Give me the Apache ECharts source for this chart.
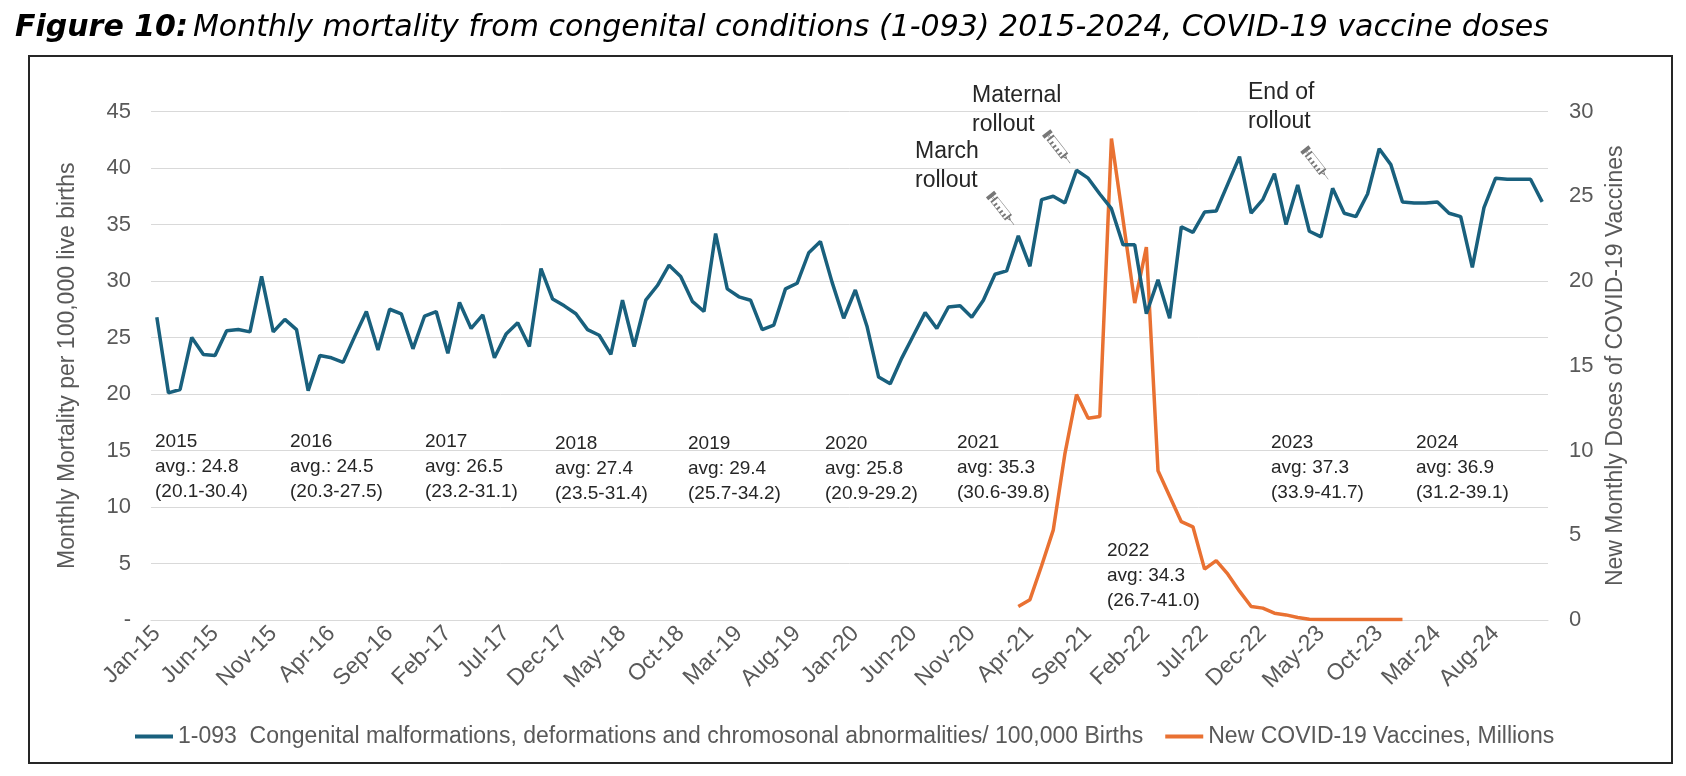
<!DOCTYPE html>
<html>
<head>
<meta charset="utf-8">
<script src="https://cdn.jsdelivr.net/npm/echarts@6/dist/echarts.min.js"></script>
<style>
  html, body { margin: 0; padding: 0; background: #fff; }
  #chart { width: 1686px; height: 776px; }
</style>
</head>
<body>
<div id="chart"></div>
<script>
// month / year parts of the category labels
var monthNames = ['Jan', 'Feb', 'Mar', 'Apr', 'May', 'Jun', 'Jul', 'Aug', 'Sep', 'Oct', 'Nov', 'Dec'];
var yearNames = ['15', '16', '17', '18', '19', '20', '21', '22', '23', '24'];

// 1-093 deaths per 100,000 births, Jan-15 .. Dec-24
var mortality = [
	26.8, 20.1, 20.4, 25.0, 23.5, 23.4, 25.6, 25.7, 25.5, 30.4, 25.5, 26.6,
	25.7, 20.3, 23.4, 23.2, 22.8, 25.1, 27.3, 23.9, 27.5, 27.1, 24.0, 26.9,
	27.3, 23.6, 28.1, 25.8, 27.0, 23.2, 25.3, 26.3, 24.2, 31.1, 28.4, 27.8,
	27.1, 25.7, 25.2, 23.5, 28.3, 24.2, 28.3, 29.6, 31.4, 30.4, 28.2, 27.3,
	34.2, 29.3, 28.6, 28.3, 25.7, 26.1, 29.3, 29.8, 32.5, 33.5, 29.9, 26.7,
	29.2, 26.0, 21.5, 20.9, 23.2, 25.2, 27.2, 25.8, 27.7, 27.8, 26.8, 28.3,
	30.6, 30.9, 34.0, 31.3, 37.2, 37.5, 36.9, 39.8, 39.1, 37.7, 36.4, 33.2,
	33.2, 27.1, 30.1, 26.7, 34.8, 34.3, 36.1, 36.2, 38.6, 41.0, 36.0, 37.2,
	39.5, 35.0, 38.5, 34.4, 33.9, 38.2, 36.0, 35.7, 37.7, 41.7, 40.3, 37.0,
	36.9, 36.9, 37.0, 36.0, 35.7, 31.2, 36.5, 39.1, 39.0, 39.0, 39.0, 37.0
];

// new vaccine doses (millions), Mar-21 .. Dec-23
var vaccineStart = 'Mar-21';
var vaccines = [
	0.8, 1.2, 3.2, 5.3, 9.8, 13.3, 11.9, 12.0, 28.4, 23.6,
	18.7, 22.0, 8.8, 7.3, 5.8, 5.5, 3.0, 3.5, 2.7, 1.7, 0.8, 0.7,
	0.4, 0.3, 0.15, 0.05, 0.03, 0.03, 0.03, 0.03, 0.03, 0.03, 0.03, 0.03
];

var yearLabels = ['2015', '2016', '2017', '2018', '2019', '2020', '2021', '2022', '2023', '2024'];
var yearAvgs = ['avg.: 24.8', 'avg.: 24.5', 'avg: 26.5', 'avg: 27.4', 'avg: 29.4', 'avg: 25.8', 'avg: 35.3', 'avg: 34.3', 'avg: 37.3', 'avg: 36.9'];
var yearRanges = ['(20.1-30.4)', '(20.3-27.5)', '(23.2-31.1)', '(23.5-31.4)', '(25.7-34.2)', '(20.9-29.2)', '(30.6-39.8)', '(26.7-41.0)', '(33.9-41.7)', '(31.2-39.1)'];

var rolloutLabels = ['March\nrollout', 'Maternal\nrollout', 'End of\nrollout'];
var rolloutMonths = ['Mar-21', 'Aug-21', 'Jun-23'];

var legendNames = ['1-093  Congenital malformations, deformations and chromosonal abnormalities/ 100,000 Births', 'New COVID-19 Vaccines, Millions'];

// layout (pixels)
var yearPos = [[155, 429], [290, 429], [425, 429], [555, 431], [688, 431], [825, 431], [957, 430], [1107, 538], [1271, 430], [1416, 430]];
var rolloutPos = [[915, 137], [972, 81], [1248, 78]];
var syringeOffset = [[-16, -26], [-18, -22], [-16, -24]];

var categories = [];
yearNames.forEach(function (y) {
	monthNames.forEach(function (m) { categories.push(m + '-' + y); });
});

var vaccineData = categories.map(function () { return null; });
var vStart = categories.indexOf(vaccineStart);
vaccines.forEach(function (v, i) { vaccineData[vStart + i] = v; });

var syringe = 'path://M8,0L32,0L32,5L8,5Z M18,5L22,5L22,16L18,16Z M10,16L30,16L30,74L10,74Z M10,28L20,28 M10,40L20,40 M10,52L20,52 M10,64L20,64 M16,74L24,74L21,82L19,82Z M20,82L20,100';

var FONT = 'Liberation Sans';
var GREY = '#595959';
var TEAL = '#19607D';
var ORANGE = '#E97132';

var graphics = [{
	type: 'rect',
	shape: { x: 29, y: 56, width: 1643, height: 707 },
	style: { fill: 'none', stroke: '#262626', lineWidth: 2 },
	z: 0
}];
yearLabels.forEach(function (t, i) {
	graphics.push({
		type: 'text',
		left: yearPos[i][0],
		top: yearPos[i][1],
		style: {
			text: t + '\n' + yearAvgs[i] + '\n' + yearRanges[i],
			fontSize: 19, fontFamily: FONT, lineHeight: 25, fill: '#262626'
		},
		z: 10
	});
});
rolloutLabels.forEach(function (t, i) {
	graphics.push({
		type: 'text',
		left: rolloutPos[i][0],
		top: rolloutPos[i][1],
		style: { text: t, fontSize: 23, fontFamily: FONT, lineHeight: 29, fill: '#262626' },
		z: 10
	});
});

var syringeMarks = rolloutMonths.map(function (m, i) {
	var idx = categories.indexOf(m);
	return { coord: [m, mortality[idx]], symbolOffset: syringeOffset[i] };
});

var myChart = echarts.init(document.getElementById('chart'));
var option = {
	animation: false,
	backgroundColor: '#fff',
	title: {
		left: 15,
		top: 13,
		padding: 0,
		text: '{b|Figure 10:} {i|Monthly mortality from congenital conditions (1-093) 2015-2024, COVID-19 vaccine doses}',
		textStyle: {
			fontWeight: 'normal',
			rich: {
				b: { fontFamily: 'DejaVu Sans', fontSize: 30, fontWeight: 'bold', fontStyle: 'italic', color: '#000' },
				i: { fontFamily: 'DejaVu Sans', fontSize: 30, fontWeight: 'normal', fontStyle: 'italic', color: '#000' }
			}
		}
	},
	legend: {
		left: 130,
		top: 720,
		itemWidth: 38,
		itemHeight: 4,
		itemGap: 22,
		icon: 'rect',
		textStyle: { fontFamily: FONT, fontSize: 23, color: GREY },
		data: legendNames
	},
	grid: { left: 151, right: 138, top: 111.5, bottom: 156, containLabel: false },
	xAxis: {
		type: 'category',
		data: categories,
		boundaryGap: true,
		axisLine: { lineStyle: { color: '#D9D9D9', width: 1 } },
		axisTick: { interval: 4, length: 6, lineStyle: { color: '#D9D9D9' } },
		axisLabel: { interval: 4, rotate: 45, margin: 10, fontFamily: FONT, fontSize: 23, color: GREY }
	},
	yAxis: [{
		type: 'value',
		min: 0, max: 45, interval: 5,
		name: 'Monthly Mortality per 100,000 live births',
		nameLocation: 'middle',
		nameGap: 72,
		nameTextStyle: { fontFamily: FONT, fontSize: 23, color: GREY },
		axisLine: { show: false },
		axisTick: { show: false },
		splitLine: { lineStyle: { color: '#D9D9D9', width: 1 } },
		axisLabel: {
			margin: 20, fontFamily: FONT, fontSize: 22, color: GREY,
			formatter: function (v) { return v === 0 ? '-' : v; }
		}
	}, {
		type: 'value',
		min: 0, max: 30, interval: 5,
		name: 'New Monthly Doses of COVID-19 Vaccines',
		nameLocation: 'middle',
		nameGap: 56,
		nameRotate: 90,
		nameTextStyle: { fontFamily: FONT, fontSize: 23, color: GREY },
		axisLine: { show: false },
		axisTick: { show: false },
		splitLine: { show: false },
		axisLabel: { margin: 21, fontFamily: FONT, fontSize: 22, color: GREY }
	}],
	graphic: graphics,
	series: [{
		name: legendNames[0],
		type: 'line',
		data: mortality,
		yAxisIndex: 0,
		symbol: 'none',
		color: TEAL,
		lineStyle: { color: TEAL, width: 3.5 },
		z: 3,
		markPoint: {
			symbol: syringe,
			symbolSize: [10, 38],
			symbolRotate: 38,
			itemStyle: { color: 'none', borderColor: '#777', borderWidth: 1 },
			label: { show: false },
			data: syringeMarks
		}
	}, {
		name: legendNames[1],
		type: 'line',
		data: vaccineData,
		yAxisIndex: 1,
		symbol: 'none',
		color: ORANGE,
		lineStyle: { color: ORANGE, width: 3.5 },
		z: 2
	}]
};
myChart.setOption(option);
</script>
</body>
</html>
